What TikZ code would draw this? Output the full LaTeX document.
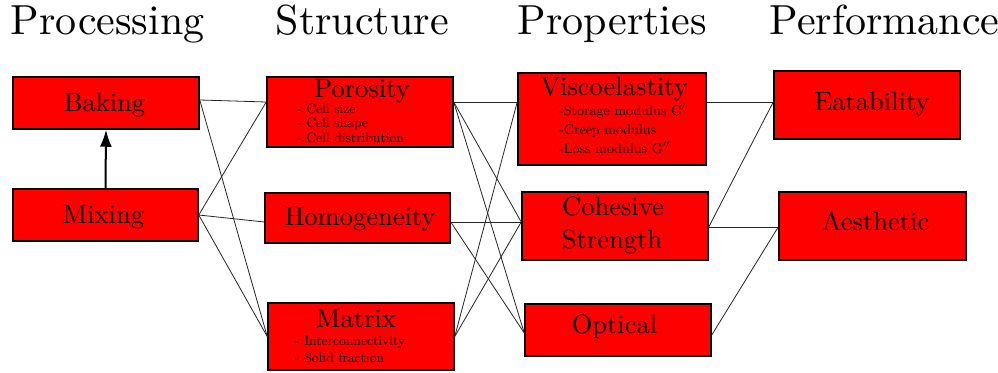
\documentclass[tikz,border=0pt]{standalone}
\usetikzlibrary{arrows.meta}
\begin{document}
\begin{tikzpicture}[x=1pt,y=-1pt,
  box/.style={draw=black, fill=red, line width=1.5pt, inner sep=0pt},
  head/.style={anchor=base west, inner sep=0pt, font=\fontsize{10}{12}\selectfont, scale=4.2},
  ttl/.style={anchor=base, inner sep=0pt, font=\fontsize{10}{12}\selectfont, scale=2.65},
  sub/.style={anchor=base west, inner sep=0pt, font=\fontsize{10}{12}\selectfont, scale=1.36},
  vsub/.style={anchor=base west, inner sep=0pt, font=\fontsize{10}{12}\selectfont, scale=1.4},
  link/.style={draw=black!85, line width=0.8pt}]
\useasboundingbox (0,0) rectangle (998,372);

% headers
\node[head] (h1) at (10,34) {Processing};
\node[head] (h2) at (275,34) {Structure};
\node[head] (h3) at (517,34) {Properties};
\node[head] (h4) at (769,34) {Performance};

% boxes
\node[box, minimum width=186pt, minimum height=52pt] (baking) at (106,103) {};
\node[box, minimum width=185pt, minimum height=52pt] (mixing) at (105.5,215) {};
\node[box, minimum width=186pt, minimum height=70pt] (poro) at (360,112) {};
\node[box, minimum width=185pt, minimum height=50pt] (homo) at (357.5,218) {};
\node[box, minimum width=186pt, minimum height=67pt] (matrix) at (361,336.5) {};
\node[box, minimum width=188pt, minimum height=92pt] (visco) at (612,119) {};
\node[box, minimum width=186pt, minimum height=68pt] (cohes) at (615,226) {};
\node[box, minimum width=186pt, minimum height=52pt] (optic) at (618,330) {};
\node[box, minimum width=186pt, minimum height=68pt] (eat) at (867,105) {};
\node[box, minimum width=187pt, minimum height=68pt] (aes) at (872.5,226) {};

% box texts
\node[ttl] (tbaking) at (104.5,111) {Baking};
\node[ttl] (tmixing) at (103.5,223) {Mixing};
\node[ttl] (tporo) at (362,97) {Porosity};
\node[sub] (p1) at (297,113) {- Cell size};
\node[sub] (p2) at (297,127) {- Cell shape};
\node[sub] (p3) at (297,142) {- Cell distribution};
\node[ttl] (thomo) at (360,225) {Homogeneity};
\node[ttl] (tmatrix) at (356,327) {Matrix};
\node[sub] (m1) at (295,345) {- Interconnectivity};
\node[sub] (m2) at (295,362) {- Solid fraction};
\node[ttl] (tvisco) at (614,95) {Viscoelastity};
\node[vsub] (v1) at (559,115) {-Storage modulus G$'$};
\node[vsub] (v2) at (559,134) {-Creep modulus};
\node[vsub] (v3) at (559,153) {-Loss modulus G$''$};
\node[ttl] (tcoh1) at (613,215) {Cohesive};
\node[ttl] (tcoh2) at (612,248) {Strength};
\node[ttl] (toptic) at (614.5,333) {Optical};
\node[ttl] (teat) at (872,110) {Eatability};
\node[ttl] (taes) at (875.5,230) {Aesthetic};

% arrow
\draw[line width=2pt, -{Latex[length=17pt,width=12pt]}] (mixing.north) -- (baking.south);

% processing -> structure
\draw[link] ([yshift=3pt]baking.east) -- ([yshift=10pt]poro.west);
\draw[link] ([yshift=3pt]baking.east) -- (matrix.west);
\draw[link] (mixing.east) -- ([yshift=10pt]poro.west);
\draw[link] (mixing.east) -- ([yshift=-4pt]homo.west);
\draw[link] (mixing.east) -- (matrix.west);

% structure -> properties
\draw[link] ([yshift=10pt]poro.east) -- ([yshift=17pt]visco.west);
\draw[link] ([yshift=10pt]poro.east) -- ([yshift=4pt]cohes.west);
\draw[link] ([yshift=10pt]poro.east) -- ([yshift=-3pt]optic.west);
\draw[link] ([yshift=-4pt]homo.east) -- ([yshift=4pt]cohes.west);
\draw[link] ([yshift=-4pt]homo.east) -- ([yshift=-3pt]optic.west);
\draw[link] (matrix.east) -- ([yshift=17pt]visco.west);
\draw[link] (matrix.east) -- ([yshift=4pt]cohes.west);

% properties -> performance
\draw[link] ([yshift=17pt]visco.east) -- ([yshift=3pt]eat.west);
\draw[link] ([yshift=-1pt]cohes.east) -- ([yshift=3pt]eat.west);
\draw[link] ([yshift=-1pt]cohes.east) -- ([yshift=-1pt]aes.west);
\draw[link] ([yshift=-5pt]optic.east) -- ([yshift=-1pt]aes.west);
\end{tikzpicture}
\end{document}
